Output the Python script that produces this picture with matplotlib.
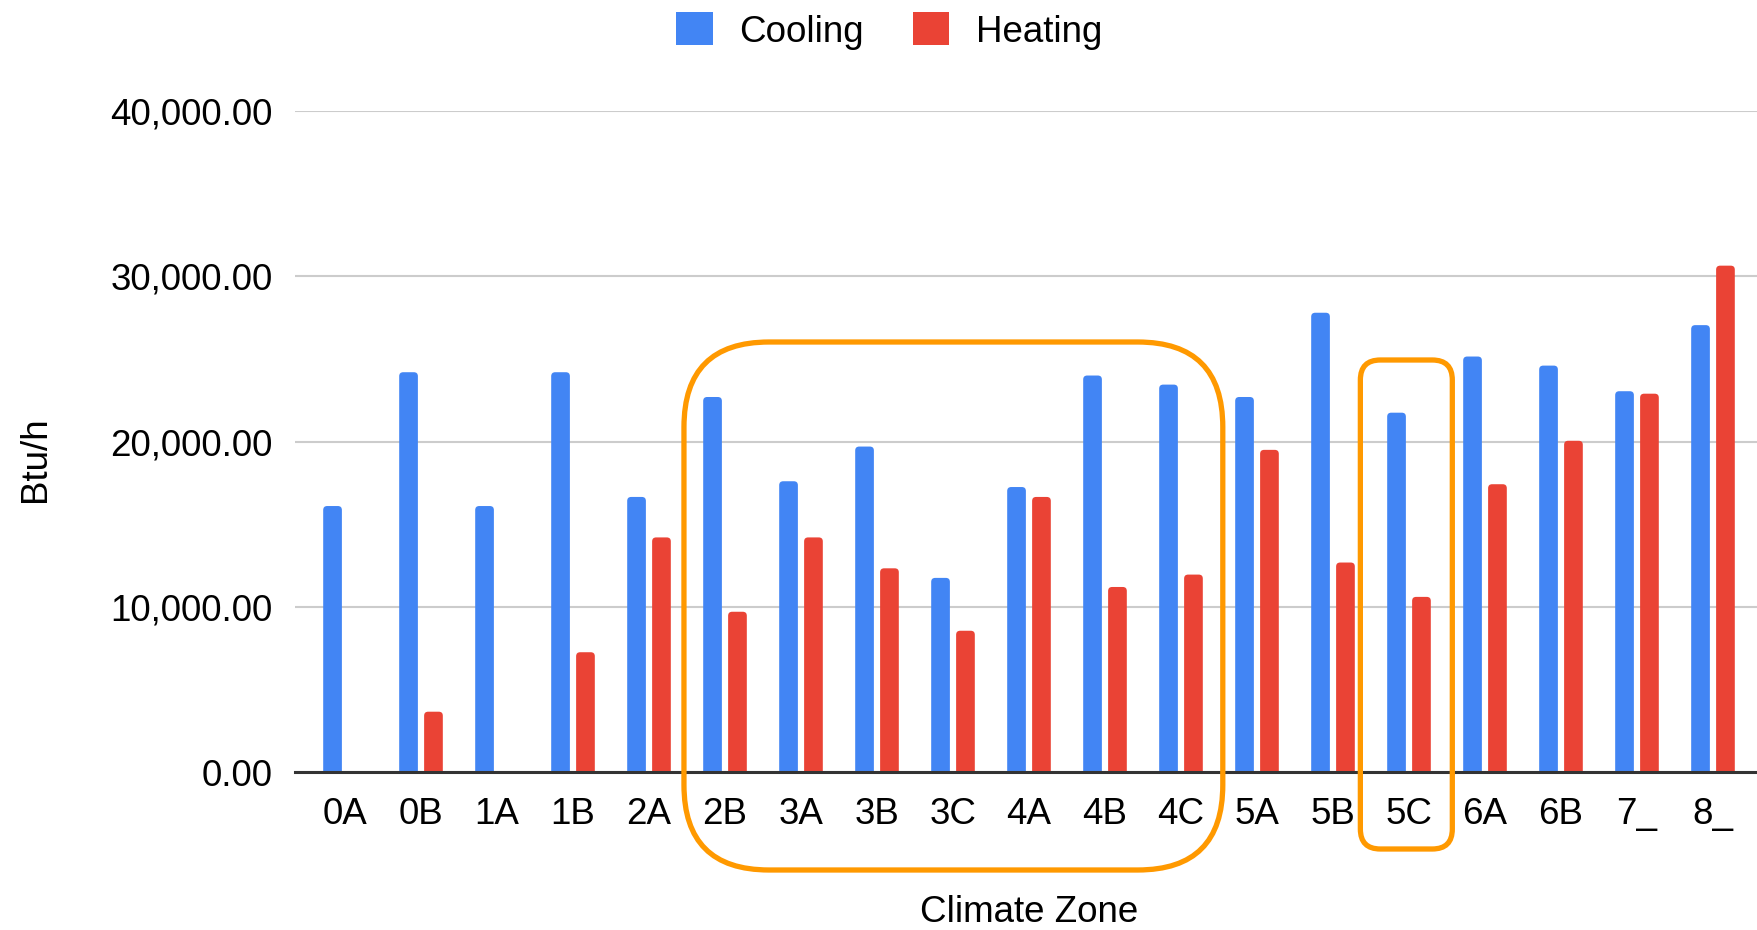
import matplotlib
matplotlib.use("Agg")
import matplotlib.pyplot as plt
from matplotlib.patches import FancyBboxPatch, Patch
from matplotlib.transforms import IdentityTransform
import numpy as np

categories = ["0A", "0B", "1A", "1B", "2A", "2B", "3A", "3B", "3C", "4A",
              "4B", "4C", "5A", "5B", "5C", "6A", "6B", "7_", "8_"]
cooling = [16100, 24200, 16100, 24200, 16650, 22700, 17600, 19700, 11750, 17250,
           24000, 23450, 22700, 27800, 21750, 25150, 24600, 23050, 27050]
heating = [0, 3650, 0, 7250, 14200, 9700, 14200, 12330, 8550, 16650,
           11200, 11950, 19500, 12680, 10600, 17420, 20050, 22900, 30650]
yticks = [0, 10000, 20000, 30000, 40000]

BLUE = "#4285F4"
RED = "#EA4335"
ORANGE = "#FF9900"

plt.rcParams["font.family"] = ["Liberation Sans", "DejaVu Sans"]
FS = 26.5

W, H = 1757, 930
fig = plt.figure(figsize=(W / 100, H / 100), dpi=100)
ax_left, ax_right = 295, 1763
ax_top, ax_bottom = 111.2, 772
ax = fig.add_axes([ax_left / W, (H - ax_bottom) / H,
                   (ax_right - ax_left) / W, (ax_bottom - ax_top) / H])

x = np.arange(len(categories))
bw = 0.246
off = 0.164
ymax = 40000
ax.set_xlim(-0.658, len(categories) - 1 + 0.658)
ax.set_ylim(0, ymax)

bars_c = ax.bar(x - off, cooling, width=bw, color=BLUE, zorder=3)
bars_h = ax.bar(x + off, heating, width=bw, color=RED, zorder=3)

# replace the plain rectangles with ones that have slightly rounded tops
px_per_x = (ax_right - ax_left) / (ax.get_xlim()[1] - ax.get_xlim()[0])
px_per_y = (ax_bottom - ax_top) / ymax
aspect = px_per_x / px_per_y
radius_x = 4.0 / px_per_x
for cont in (bars_c, bars_h):
    for r in cont.patches:
        r.set_visible(False)
        h = r.get_height()
        if h <= 0:
            continue
        ext = 2000
        p = FancyBboxPatch((r.get_x(), -ext), r.get_width(), h + ext,
                           boxstyle=f"round,pad=0,rounding_size={radius_x}",
                           mutation_aspect=aspect, facecolor=r.get_facecolor(),
                           edgecolor="none", zorder=3)
        ax.add_patch(p)

ax.set_yticks(yticks)
ax.set_yticklabels([f"{v:,.2f}" for v in yticks], fontsize=FS)
ax.set_xticks(x)
ax.set_xticklabels(categories, fontsize=FS)
ax.tick_params(axis="both", length=0)
ax.tick_params(axis="y", pad=16)
ax.tick_params(axis="x", pad=18)

ax.yaxis.grid(True, color="#cccccc", linewidth=1.5, zorder=0)
ax.set_axisbelow(True)
for s in ["top", "right", "left"]:
    ax.spines[s].set_visible(False)
ax.spines["bottom"].set_color("#333333")
ax.spines["bottom"].set_linewidth(2.2)
ax.spines["bottom"].set_zorder(4)

fig.text(1029 / W, 1 - 912 / H, "Climate Zone", fontsize=FS, ha="center", va="center")
fig.text(35 / W, 1 - 459 / H, "Btu/h", fontsize=FS, ha="center", va="center", rotation=90)

handles = [Patch(facecolor=BLUE, label="Cooling"), Patch(facecolor=RED, label="Heating")]
leg = fig.legend(handles=handles, loc="center", bbox_to_anchor=(889 / W, 1 - 31 / H), ncol=2,
                 frameon=False, fontsize=FS, handlelength=1.0, handleheight=1.0,
                 handletextpad=0.72, columnspacing=1.33)

# orange highlight boxes (annotation), x anchored to category positions
def px_x(xd):
    return ax.transData.transform((xd, 0))[0]

def add_box(x0d, x1d, ytop_px, ybot_px, radius):
    x0 = px_x(x0d)
    x1 = px_x(x1d)
    y0 = H - ybot_px
    y1 = H - ytop_px
    p = FancyBboxPatch((x0, y0), x1 - x0, y1 - y0,
                       boxstyle=f"round,pad=0,rounding_size={radius}",
                       transform=IdentityTransform(), fill=False,
                       edgecolor=ORANGE, linewidth=3.8, zorder=10)
    fig.patches.append(p)

add_box(5 - 0.54, 11 + 0.55, 342, 870, 85)
add_box(14 - 0.64, 14 + 0.57, 360, 849, 20)

fig.savefig("out.png", dpi=100)
